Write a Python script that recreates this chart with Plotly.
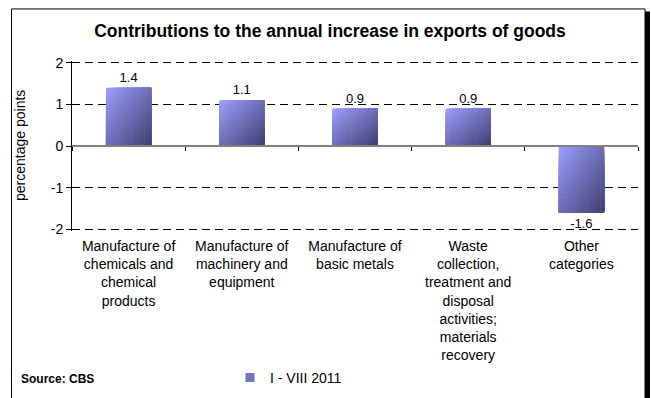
import plotly.graph_objects as go

# Chart data
categories = [
    "Manufacture of<br>chemicals and<br>chemical<br>products",
    "Manufacture of<br>machinery and<br>equipment",
    "Manufacture of<br>basic metals",
    "Waste<br>collection,<br>treatment and<br>disposal<br>activities;<br>materials<br>recovery",
    "Other<br>categories",
]
values = [1.4, 1.1, 0.9, 0.9, -1.6]
value_labels = ["1.4", "1.1", "0.9", "0.9", "-1.6"]
series_name = "I - VIII 2011"
y_ticks = [-2, -1, 0, 1, 2]
y_tick_text = ["-2", "-1", "0", "1", "2"]

W, H = 651, 398
PX_PER_UNIT = 41.5
Y_PAD = 0.04                      # keeps the ±2 gridlines inside the plot area
ML, MR = 72, 13
MT = 63 - Y_PAD * PX_PER_UNIT
MB = (H - 229) - Y_PAD * PX_PER_UNIT
PW, PH = W - ML - MR, H - MT - MB
BOTTOM = MT + PH                  # pixel row of the plot-area bottom


def py(p):
    """Pixel row -> paper y."""
    return (BOTTOM - p) / PH


def px(p):
    """Pixel column -> paper x."""
    return (p - ML) / PW


BAR_W = 0.4
LIGHT = (158, 158, 255)
DARK = (62, 62, 112)
NX, NY = 14, 14


def mix(t):
    r, g, b = (round(LIGHT[i] + (DARK[i] - LIGHT[i]) * t) for i in range(3))
    return f"rgb({r},{g},{b})"


# Diagonal gradient fill: each bar is built from nested cells, each cell
# reaching to the bar's right edge and far end so later cells overlap earlier ones.
gx, gy, gbase, goff, gwid, gcol = [], [], [], [], [], []
for i, v in enumerate(values):
    lo, hi = min(0, v), max(0, v)
    h = hi - lo
    for j in range(NX):
        for k in range(NY):
            top = hi - k * h / NY
            gx.append(i)
            gbase.append(lo)
            gy.append(top - lo)
            goff.append(-BAR_W / 2 + j * BAR_W / NX)
            gwid.append(BAR_W - j * BAR_W / NX)
            gcol.append(mix(((j + 0.5) / NX + (k + 0.5) / NY) / 2))

FONT = "Liberation Sans, Arial"

fig = go.Figure()
fig.add_trace(go.Bar(
    x=gx, y=gy, base=gbase, offset=goff, width=gwid,
    marker=dict(color=gcol, line=dict(width=0)),
    showlegend=False, hoverinfo="skip",
))
# Value labels
fig.add_trace(go.Bar(
    x=list(range(len(values))), y=values, width=BAR_W,
    marker=dict(color="rgba(0,0,0,0)", line=dict(width=0)),
    text=value_labels, textposition="outside", cliponaxis=False,
    textfont=dict(family=FONT, size=13, color="#000"),
    showlegend=False, hoverinfo="skip",
))
# Legend entry
fig.add_trace(go.Scatter(
    x=[None], y=[None], mode="markers", name=series_name,
    marker=dict(symbol="square", size=9, color=mix(0.45)),
))
# Zero line with category boundary ticks
fig.add_trace(go.Scatter(
    x=[None], y=[None], xaxis="x2", showlegend=False, hoverinfo="skip",
))

fig.update_layout(
    width=W, height=H,
    margin=dict(l=ML, r=MR, t=MT, b=MB, autoexpand=False),
    paper_bgcolor="white", plot_bgcolor="white",
    barmode="overlay",
    font=dict(family=FONT, size=14, color="#000"),
    title=dict(
        text="<b>Contributions to the annual increase in exports of goods</b>",
        font=dict(size=17.5, color="#000"),
        x=330 / W, xanchor="center", xref="container",
        y=1 - 31 / H, yanchor="middle", yref="container",
    ),
    xaxis=dict(
        range=[-0.5, len(values) - 0.5], automargin=False,
        tickvals=list(range(len(values))), ticktext=categories,
        showgrid=False, zeroline=False, showline=False, ticks="",
        tickfont=dict(size=14), ticklabelstandoff=5,
    ),
    xaxis2=dict(
        range=[-0.5, len(values) - 0.5], overlaying="x", anchor="free",
        position=py(146), showticklabels=False, showgrid=False, zeroline=False,
        showline=True, linecolor="#808080", linewidth=2, automargin=False,
        ticks="outside", ticklen=4, tickcolor="#000", tickwidth=1,
        tickvals=[k - 0.5 for k in range(len(values) + 1)],
    ),
    yaxis=dict(
        range=[-2 - Y_PAD, 2 + Y_PAD], tickvals=y_ticks, ticktext=y_tick_text,
        showgrid=True, gridcolor="#000", gridwidth=1, griddash="8px,5px",
        zeroline=False, showline=True, linecolor="#000", linewidth=1,
        ticks="outside", ticklen=5, tickcolor="#000", automargin=False,
        tickfont=dict(size=14),
    ),
    legend=dict(
        orientation="h", x=px(230), xanchor="left",
        y=py(377), yanchor="middle", font=dict(size=14),
        bgcolor="rgba(0,0,0,0)", itemwidth=30,
    ),
    annotations=[
        dict(text="percentage points", textangle=-90, xref="paper", yref="paper",
             x=px(20), y=py(146), xanchor="center", yanchor="middle",
             showarrow=False, font=dict(size=14)),
        dict(text="<b>Source: CBS</b>", xref="paper", yref="paper",
             x=px(19), y=py(378), xanchor="left", yanchor="middle",
             showarrow=False, font=dict(size=12)),
    ],
    shapes=[
        # outer frame
        dict(type="rect", xref="paper", yref="paper",
             x0=px(11.5), x1=px(645), y0=py(430), y1=py(9.5),
             line=dict(color="#000", width=1), fillcolor="rgba(0,0,0,0)",
             layer="below"),
        # drop shadow on the right
        dict(type="rect", xref="paper", yref="paper",
             x0=px(645), x1=px(650), y0=py(430), y1=py(12),
             line=dict(width=0), fillcolor="#000", layer="below"),
    ],
)

fig.write_html("out.html")
